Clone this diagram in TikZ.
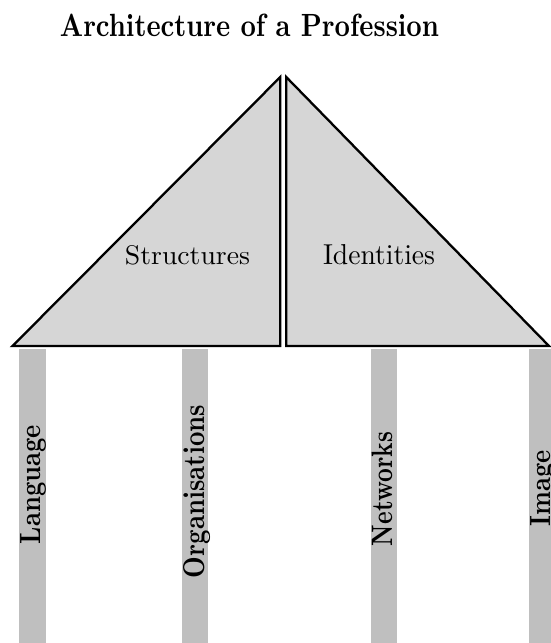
\documentclass[tikz,border=0pt]{standalone}
\usepackage{graphicx}
\definecolor{roofgray}{HTML}{D6D6D6}
\definecolor{pillargray}{HTML}{BFBFBF}
\tikzset{
  roof/.style={fill=roofgray, draw=black, line width=2.3pt, line join=miter},
  pillar/.style={fill=pillargray, draw=none},
  pillarlabel/.style={rotate=90, anchor=base, inner sep=0pt, font=\bfseries},
  rooflabel/.style={anchor=base, inner sep=0pt},
}
\begin{document}
\begin{tikzpicture}[x=1pt,y=-1pt]
\useasboundingbox (0,0) rectangle (551,643);
% title
\node[anchor=base, inner sep=0pt] (title) at (249.5,36.9) {\resizebox{379pt}{22.5pt}{\bfseries Architecture of a Profession}};
% pillars
\fill[pillar] (19.3,349) rectangle (45.7,643);
\fill[pillar] (181.8,349) rectangle (208.4,643);
\fill[pillar] (370.8,349) rectangle (397.4,643);
\fill[pillar] (529,349) rectangle (556,643);
% roof
\draw[roof] (280.3,77) -- (12.5,346) -- (280.3,346) -- cycle;
\draw[roof] (286.2,77) -- (549,346) -- (286.2,346) -- cycle;
% roof labels
\node[rooflabel] (structures) at (187.5,264.3) {\resizebox{125pt}{19pt}{Structures}};
\node[rooflabel] (identities) at (379,264.3) {\resizebox{112pt}{20pt}{Identities}};
% pillar labels
\node[pillarlabel] (language) at (40,484.5) {\resizebox{119pt}{20pt}{\bfseries Language}};
\node[pillarlabel] (organisations) at (204,491.5) {\resizebox{173pt}{21pt}{\bfseries Organisations}};
\node[pillarlabel] (networks) at (392,489) {\resizebox{114pt}{20.5pt}{\bfseries Networks}};
\node[pillarlabel] (image) at (550,488) {\resizebox{76pt}{20pt}{\bfseries Image}};
\end{tikzpicture}
\end{document}
